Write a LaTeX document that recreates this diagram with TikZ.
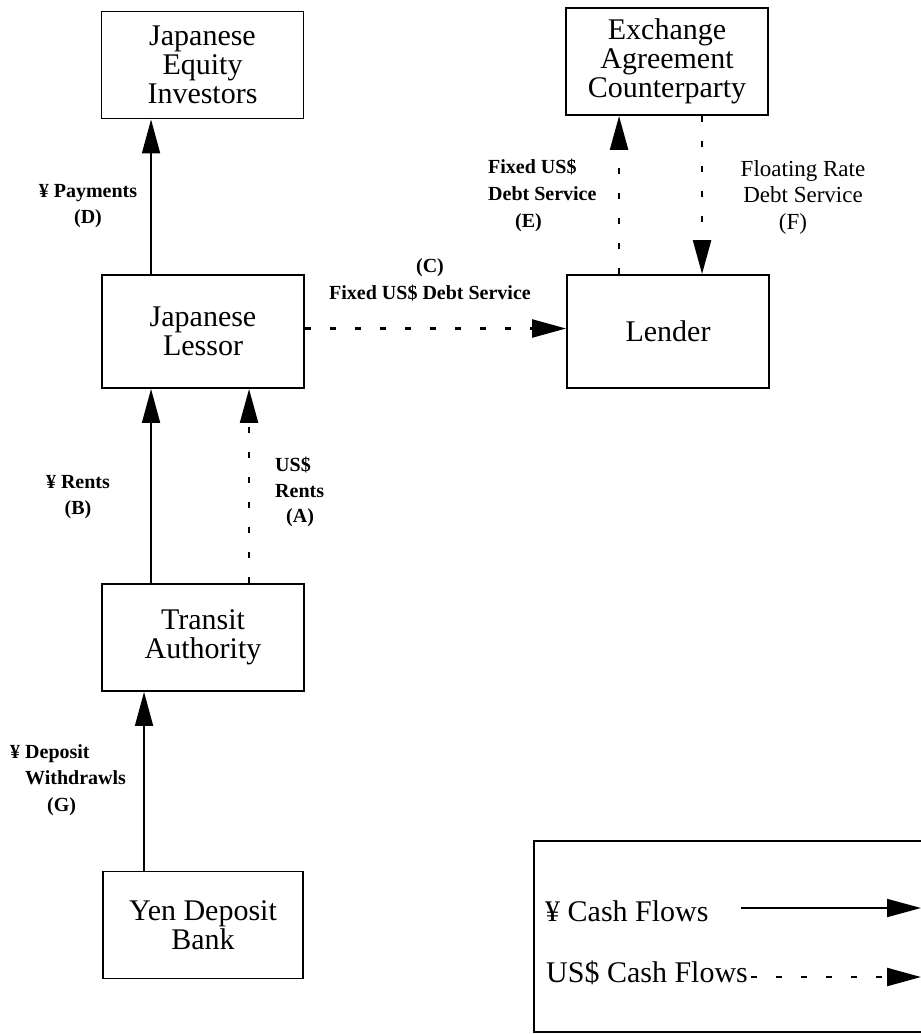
\documentclass[tikz,border=0pt]{standalone}
\usepackage{fontspec}
\setmainfont{Liberation Serif}
\usetikzlibrary{arrows.meta}

\tikzset{
  box/.style={draw, line width=1.9pt, align=center, inner sep=0pt,
    minimum width=202pt, minimum height=107pt,
    font=\fontsize{30}{29}\selectfont},
  lbl/.style={align=center, inner sep=0pt, font=\bfseries\fontsize{20}{26.5}\selectfont},
  lbll/.style={lbl, align=left, anchor=west},
  leg/.style={inner sep=0pt, font=\fontsize{30}{30}\selectfont},
  flow/.style={line width=1.8pt, -{Triangle[length=34pt,width=18pt]}},
  usd/.style={flow, line width=2.4pt, dash pattern=on 6pt off 19pt}
}

\begin{document}
\begin{tikzpicture}[x=1pt, y=-1pt]
\useasboundingbox (0,0) rectangle (921,1034);
\clip (0,0) rectangle (921,1034);

% parties
\node[box] (inv)  at (202.5,65)    {Japanese\\Equity\\Investors};
\node[box] (cpt)  at (667,61.5)    {Exchange\\Agreement\\Counterparty};
\node[box, minimum height=113pt] (les)  at (203,331.5) {Japanese\\Lessor};
\node[box, minimum height=113pt] (lend) at (668,331.5) {Lender};
\node[box] (tra)  at (203,637.5)   {Transit\\Authority};
\node[box, minimum width=200pt] (bank) at (203,925) {Yen Deposit\\Bank};

% yen flows
\draw[flow] ([xshift=50pt]les.north west) -- ([xshift=50pt]les.north west |- inv.south);
\draw[flow] ([xshift=50pt]tra.north west) -- ([xshift=50pt]tra.north west |- les.south);
\draw[flow] ([xshift=42pt]bank.north west) -- ([xshift=42pt]bank.north west |- tra.south);

% dollar flows
\draw[usd] ([xshift=148pt]tra.north west) -- ([xshift=148pt]tra.north west |- les.south);
\draw[usd] ([yshift=3pt]les.east) -- ([yshift=3pt]lend.west);
\draw[usd] ([xshift=53pt]lend.north west) -- ([xshift=53pt]lend.north west |- cpt.south);
\draw[usd] ([xshift=137pt]cpt.south west) -- ([xshift=137pt]cpt.south west |- lend.north);

% flow labels
\node[lbl] (lD) at (88,206) {¥ Payments\\(D)};
\node[lbl] (lB) at (78,497) {¥ Rents\\(B)};
\node[lbll, font=\bfseries\fontsize{20}{25.5}\selectfont] (lA) at (275,492) {US\$\\Rents\\\hspace{11pt}(A)};
\node[lbl] (lC) at (430,280) {(C)\\Fixed US\$ Debt Service};
\node[lbll, font=\bfseries\fontsize{20}{27}\selectfont] (lE) at (488,195) {Fixed US\$\\Debt Service\\\hspace{27pt}(E)};
\node[lbl, font=\fontsize{23}{26.5}\selectfont] (lF) at (803,197) {Floating Rate\\Debt Service\\\hspace{-20pt}(F)};
\node[lbll] (lG) at (10,780) {¥ Deposit\\\hspace{15pt}Withdrawls\\\hspace{37pt}(G)};

% legend
\draw[line width=1.9pt] (960,841) -- (534,841) -- (534,1032) -- (960,1032);
\node[leg, anchor=base west] (ly) at (545,921) {¥ Cash Flows};
\node[leg, anchor=base west] (lu) at (546,982) {US\$ Cash Flows};
\coordinate (lyend) at (921,908);
\coordinate (luend) at (921,977);
\draw[flow] ([xshift=32pt]ly.east |- lyend) -- (lyend);
\draw[usd] ([xshift=3pt]lu.east |- luend) -- (luend);
\end{tikzpicture}
\end{document}
